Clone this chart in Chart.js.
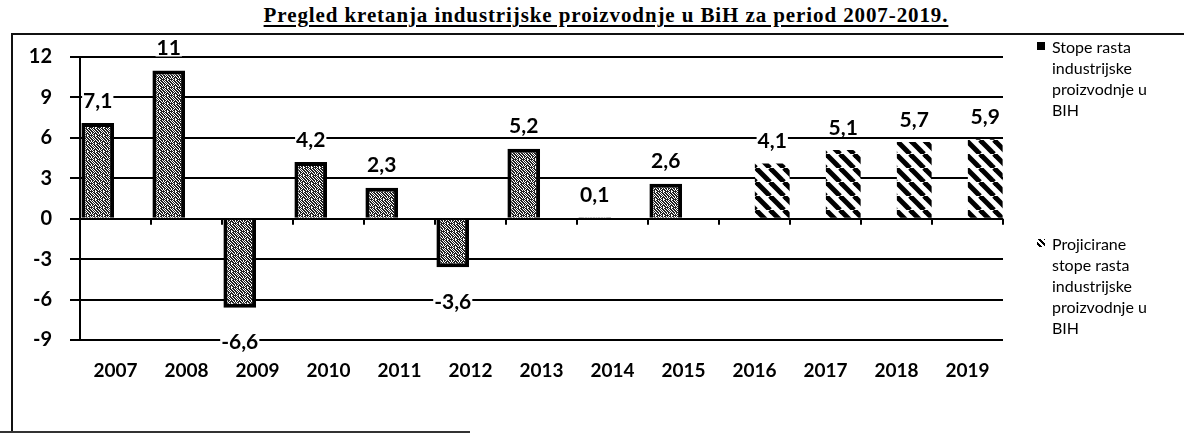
<!DOCTYPE html>
<html>
<head>
<meta charset="utf-8">
<script src="https://cdn.jsdelivr.net/npm/chart.js@4/dist/chart.umd.min.js"></script>
<style>
  html, body { margin: 0; padding: 0; background: #fff; }
  #wrap { position: relative; width: 1184px; height: 441px; overflow: hidden; }
  #chart { position: absolute; left: 0; top: 0; }
  .title {
    position: absolute; left: 0; width: 1212px; top: 3px; text-align: center;
    font: bold 21px "Liberation Serif", "DejaVu Serif", serif; color: #000; letter-spacing: 0.9px;
    text-decoration: underline; text-underline-offset: 3px;
  }
  .frame { position: absolute; border-left: 2px solid #111; border-top: 2px solid #111; left: 11px; top: 33px; width: 1200px; height: 397px; }
  .frameBottom { position: absolute; left: 0; top: 431px; width: 470px; border-top: 2px solid #333; }
  .legend { position: absolute; left: 1052px; font: 16px Lato, sans-serif; line-height: 21px; color: #000; }
  .mk { position: absolute; left: -15px; top: 6px; width: 8px; height: 8px; }
</style>
</head>
<body>
<div id="wrap">
  <div class="frame"></div>
  <div class="frameBottom"></div>
  <div class="title">Pregled kretanja industrijske proizvodnje u BiH za period 2007-2019.</div>
  <canvas id="chart" width="1184" height="441"></canvas>
  <div class="legend" style="top:36px">
    <span class="mk" style="background:#000"></span>Stope rasta<br>industrijske<br>proizvodnje u<br>BIH
  </div>
  <div class="legend" style="top:233px">
    <span class="mk" style="background:repeating-linear-gradient(45deg,#fff 0 2px,#000 2px 4px)"></span>Projicirane<br>stope rasta<br>industrijske<br>proizvodnje u<br>BIH
  </div>
</div>
<script>
// podaci
const godine = ['2007', '2008', '2009', '2010', '2011', '2012', '2013', '2014', '2015', '2016', '2017', '2018', '2019'];
const stopeRasta = [7.1, 11, -6.6, 4.2, 2.3, -3.6, 5.2, 0.1, 2.6, null, null, null, null];
const projicirane = [null, null, null, null, null, null, null, null, null, 4.1, 5.1, 5.7, 5.9];
const yTicks = [-9, -6, -3, 0, 3, 6, 9, 12];

// uzorak za stvarne stope (tackice)
function stipple() {
    const rows = [
        '11010110',
        '01101011',
        '10110101',
        '11011010',
        '01101101',
        '10101011',
        '11010110',
        '01111010'
    ];
    const c = document.createElement('canvas');
    c.width = 8; c.height = 8;
    const g = c.getContext('2d');
    g.fillStyle = '#fff';
    g.fillRect(0, 0, 8, 8);
    g.fillStyle = '#222';
    rows.forEach((r, y) => {
        for (let x = 0; x < 8; x++) if (r[x] === '1') g.fillRect(x, y, 1, 1);
    });
    return g.createPattern(c, 'repeat');
}

// uzorak za projicirane stope (kose linije)
function hatch() {
    const s = 14;
    const c = document.createElement('canvas');
    c.width = s; c.height = s;
    const g = c.getContext('2d');
    g.fillStyle = '#fff';
    g.fillRect(0, 0, s, s);
    g.strokeStyle = '#000';
    g.lineWidth = 5;
    for (const o of [-s, 0, s]) {
        g.beginPath();
        g.moveTo(o, 0);
        g.lineTo(o + s, s);
        g.stroke();
    }
    return g.createPattern(c, 'repeat');
}

const fmt = v => String(v).replace('.', ',');

// oznake vrijednosti iznad/ispod stubaca
const labelPlugin = {
    id: 'vrijednosti',
    afterDatasetsDraw(chart) {
        const ctx = chart.ctx;
        ctx.save();
        ctx.font = 'bold 21px Lato, sans-serif';
        ctx.textAlign = 'center';
        ctx.textBaseline = 'middle';
        chart.data.datasets.forEach((ds, i) => {
            chart.getDatasetMeta(i).data.forEach((bar, j) => {
                const v = ds.data[j];
                if (v === null) return;
                const y = v >= 0 ? bar.y - 22 : bar.y + 35;
                ctx.fillStyle = '#fff';
                const w = ctx.measureText(fmt(v)).width;
                ctx.fillRect(bar.x - w / 2 - 1, y - 8, w + 2, 16);
                ctx.fillStyle = '#000';
                ctx.fillText(fmt(v), bar.x, y);
            });
        });
        // male crtice na osi 0
        const xs = chart.scales.x, ys = chart.scales.y;
        const y0 = ys.getPixelForValue(0);
        const step = (xs.right - xs.left) / godine.length;
        ctx.strokeStyle = '#000';
        ctx.lineWidth = 2;
        for (let k = 0; k <= godine.length; k++) {
            const x = xs.left + k * step;
            ctx.beginPath();
            ctx.moveTo(x, y0);
            ctx.lineTo(x, y0 + 6);
            ctx.stroke();
        }
        ctx.restore();
    }
};

new Chart(document.getElementById('chart'), {
    type: 'bar',
    data: {
        labels: godine,
        datasets: [{
            label: 'Stope rasta industrijske proizvodnje u BIH',
            data: stopeRasta,
            backgroundColor: stipple(),
            borderColor: '#000',
            borderWidth: 4,
            categoryPercentage: 1,
            barPercentage: 0.92
        }, {
            label: 'Projicirane stope rasta industrijske proizvodnje u BIH',
            data: projicirane,
            backgroundColor: hatch(),
            borderWidth: 0,
            categoryPercentage: 1,
            barPercentage: 0.98
        }]
    },
    options: {
        responsive: false,
        animation: false,
        layout: { padding: { left: 0, right: 181, top: 57, bottom: 0 } },
        plugins: {
            legend: { display: false },
            title: { display: false },
            tooltip: { enabled: false }
        },
        scales: {
            x: {
                grid: { display: false },
                border: { display: false },
                ticks: { color: '#000', padding: 11, font: { family: 'Lato', size: 19, weight: 'bold' } },
                afterFit(s) { s.height = 101; }
            },
            y: {
                min: -9,
                max: 12,
                afterBuildTicks(s) { s.ticks = yTicks.map(v => ({ value: v })); },
                grid: { color: '#000', lineWidth: 2, tickLength: 10, tickColor: '#000' },
                border: { color: '#000', width: 2 },
                ticks: { color: '#000', padding: 18, font: { family: 'Lato', size: 20, weight: 'bold' } },
                afterFit(s) { s.width = 80; }
            }
        }
    },
    plugins: [labelPlugin]
});
</script>
</body>
</html>
